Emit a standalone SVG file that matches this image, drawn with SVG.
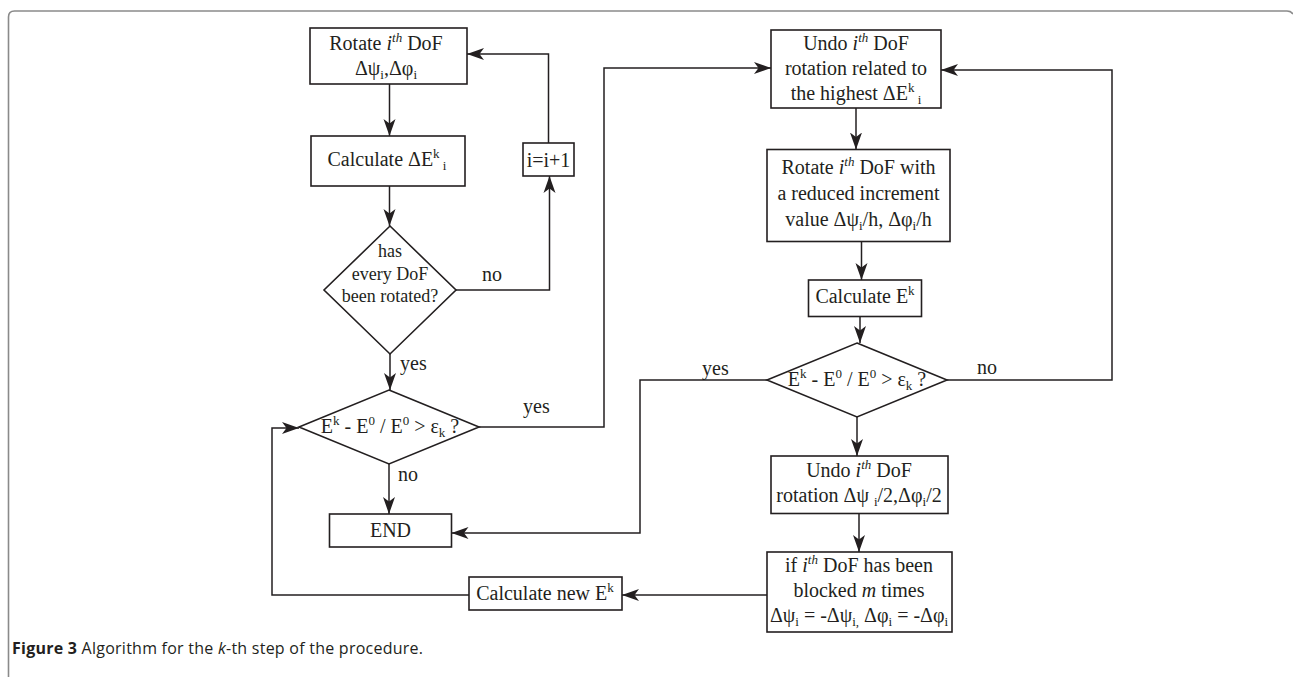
<svg xmlns="http://www.w3.org/2000/svg" width="1293" height="677" viewBox="0 0 1293 677">
<style>
.frame{fill:none;stroke:#8a8a8a;stroke-width:1.6}
.box{fill:#fff;stroke:#231f20;stroke-width:1.6}
.ln{fill:none;stroke:#231f20;stroke-width:1.5}
.t{font-family:"Liberation Serif","Times New Roman",serif;font-size:20px;fill:#231f20;text-anchor:middle}
.ts{font-family:"Liberation Serif","Times New Roman",serif;font-size:18px;fill:#231f20;text-anchor:middle}
.lab{font-family:"Liberation Serif","Times New Roman",serif;font-size:20px;fill:#231f20}
.s{font-size:13px}
.cap{font-family:"Open Sans","Liberation Sans",Arial,sans-serif;font-size:16px;fill:#231f20}
</style>
<defs>
<marker id="ah" markerUnits="userSpaceOnUse" markerWidth="18" markerHeight="14" viewBox="0 -7 18 14" refX="17" refY="0" orient="auto">
<path d="M0,-6 L17,0 L0,6 L4.5,0 z" fill="#231f20"/>
</marker>
</defs>
<path class="frame" d="M8.5,690 V17 Q8.5,11 14.5,11 H1287 Q1291,11 1293,14"/>

<g id="connectors">
<path class="ln" d="M389.5,84 V136" marker-end="url(#ah)"/>
<path class="ln" d="M389.5,186 V226" marker-end="url(#ah)"/>
<path class="ln" d="M456,290 H549.5 V176" marker-end="url(#ah)"/>
<path class="ln" d="M548.5,143 V54 H467" marker-end="url(#ah)"/>
<path class="ln" d="M390,354 V390" marker-end="url(#ah)"/>
<path class="ln" d="M479,427 H604 V68 H771" marker-end="url(#ah)"/>
<path class="ln" d="M389,464 V514" marker-end="url(#ah)"/>
<path class="ln" d="M469,595 H272 V428 H299" marker-end="url(#ah)"/>
<path class="ln" d="M856,108 V149.5" marker-end="url(#ah)"/>
<path class="ln" d="M861.5,241.5 V280" marker-end="url(#ah)"/>
<path class="ln" d="M860,316.5 V343" marker-end="url(#ah)"/>
<path class="ln" d="M767,380 H640 V533 H451.5" marker-end="url(#ah)"/>
<path class="ln" d="M947,380 H1112 V70 H941" marker-end="url(#ah)"/>
<path class="ln" d="M857,417 V456" marker-end="url(#ah)"/>
<path class="ln" d="M859,513.5 V552" marker-end="url(#ah)"/>
<path class="ln" d="M767,595 H622" marker-end="url(#ah)"/>
<text class="lab" x="482" y="281">no</text>
<text class="lab" x="400" y="370">yes</text>
<text class="lab" x="523" y="413">yes</text>
<text class="lab" x="398" y="481">no</text>
<text class="lab" x="702" y="375">yes</text>
<text class="lab" x="977" y="374">no</text>
</g>

<g id="rotate1">
<rect class="box" x="310" y="28" width="157" height="56"/>
<text class="t" x="386" y="50">Rotate <tspan font-style="italic">i</tspan><tspan class="s" font-style="italic" dy="-8">th</tspan><tspan dy="8"> DoF</tspan></text>
<text class="t" x="386" y="75">Δψ<tspan class="s" dy="4">i</tspan><tspan dy="-4">,Δφ</tspan><tspan class="s" dy="4">i</tspan></text>
</g>

<g id="calcdE">
<rect class="box" x="311" y="136" width="154" height="50"/>
<text class="t" x="387" y="166">Calculate ΔE<tspan class="s" dy="-8">k</tspan><tspan class="s" dy="12"> i</tspan></text>
</g>

<g id="inc">
<rect class="box" x="523" y="143" width="51" height="33"/>
<text class="t" x="548.5" y="167">i=i+1</text>
</g>

<g id="dec1">
<polygon class="box" points="390,226 456,290 390,354 324,290"/>
<text class="ts" x="390" y="257">has</text>
<text class="ts" x="390" y="280">every DoF</text>
<text class="ts" x="390" y="302">been rotated?</text>
</g>

<g id="dec2">
<polygon class="box" points="389,390 479,427 389,464 299,427"/>
<text class="t" x="390" y="433">E<tspan class="s" dy="-8">k</tspan><tspan dy="8"> - E</tspan><tspan class="s" dy="-8">0</tspan><tspan dy="8"> / E</tspan><tspan class="s" dy="-8">0</tspan><tspan dy="8"> &gt; ε</tspan><tspan class="s" dy="4">k</tspan><tspan dy="-4"> ?</tspan></text>
</g>

<g id="end">
<rect class="box" x="329.5" y="514" width="122" height="33"/>
<text class="t" x="390.5" y="537">END</text>
</g>

<g id="calcnew">
<rect class="box" x="469" y="577" width="153" height="33"/>
<text class="t" x="545" y="600">Calculate new E<tspan class="s" dy="-8">k</tspan></text>
</g>

<g id="undo1">
<rect class="box" x="771" y="30" width="170" height="78"/>
<text class="t" x="856" y="50">Undo <tspan font-style="italic">i</tspan><tspan class="s" font-style="italic" dy="-8">th</tspan><tspan dy="8"> DoF</tspan></text>
<text class="t" x="856" y="75">rotation related to</text>
<text class="t" x="856" y="100">the highest ΔE<tspan class="s" dy="-8">k</tspan><tspan class="s" dy="12"> i</tspan></text>
</g>

<g id="rotate2">
<rect class="box" x="767" y="149.5" width="183" height="92"/>
<text class="t" x="858.5" y="174">Rotate <tspan font-style="italic">i</tspan><tspan class="s" font-style="italic" dy="-8">th</tspan><tspan dy="8"> DoF with</tspan></text>
<text class="t" x="858.5" y="200">a reduced increment</text>
<text class="t" x="858.5" y="226">value Δψ<tspan class="s" dy="4">i</tspan><tspan dy="-4">/h, Δφ</tspan><tspan class="s" dy="4">i</tspan><tspan dy="-4">/h</tspan></text>
</g>

<g id="calcE">
<rect class="box" x="808.5" y="280" width="113" height="36.5"/>
<text class="t" x="865" y="303">Calculate E<tspan class="s" dy="-8">k</tspan></text>
</g>

<g id="dec3">
<polygon class="box" points="857,343 947,380 857,417 767,380"/>
<text class="t" x="857" y="386">E<tspan class="s" dy="-8">k</tspan><tspan dy="8"> - E</tspan><tspan class="s" dy="-8">0</tspan><tspan dy="8"> / E</tspan><tspan class="s" dy="-8">0</tspan><tspan dy="8"> &gt; ε</tspan><tspan class="s" dy="4">k</tspan><tspan dy="-4"> ?</tspan></text>
</g>

<g id="undo2">
<rect class="box" x="771" y="456" width="177" height="57.5"/>
<text class="t" x="859" y="477">Undo <tspan font-style="italic">i</tspan><tspan class="s" font-style="italic" dy="-8">th</tspan><tspan dy="8"> DoF</tspan></text>
<text class="t" x="859" y="502">rotation Δψ <tspan class="s" dy="4">i</tspan><tspan dy="-4">/2,Δφ</tspan><tspan class="s" dy="4">i</tspan><tspan dy="-4">/2</tspan></text>
</g>

<g id="ifblocked">
<rect class="box" x="767" y="552" width="185" height="80"/>
<text class="t" x="859" y="572">if <tspan font-style="italic">i</tspan><tspan class="s" font-style="italic" dy="-8">th</tspan><tspan dy="8"> DoF has been</tspan></text>
<text class="t" x="859" y="597">blocked <tspan font-style="italic">m</tspan> times</text>
<text class="t" x="859" y="622">Δψ<tspan class="s" dy="4">i</tspan><tspan dy="-4"> = -Δψ</tspan><tspan class="s" dy="4">i,</tspan><tspan dy="-4"> Δφ</tspan><tspan class="s" dy="4">i</tspan><tspan dy="-4"> = -Δφ</tspan><tspan class="s" dy="4">i</tspan></text>
</g>

<g id="caption">
<text class="cap" x="12" y="654" textLength="411"><tspan font-weight="bold">Figure 3</tspan> Algorithm for the <tspan font-style="italic">k</tspan>-th step of the procedure.</text>
</g>
</svg>
